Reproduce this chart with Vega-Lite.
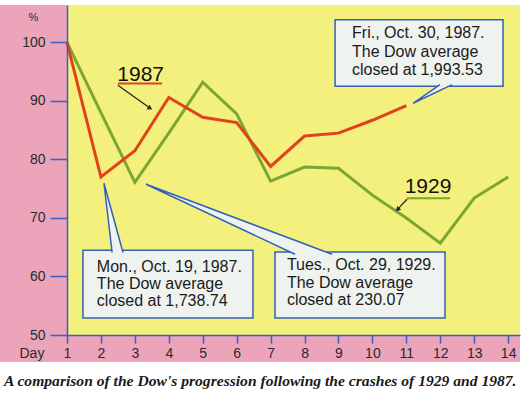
{
  "$schema": "https://vega.github.io/schema/vega-lite/v6.json",
  "width": 453,
  "height": 330,
  "autosize": {"type": "none"},
  "padding": {"left": 67, "top": 5, "right": 6, "bottom": 63},
  "background": "white",
  "view": {"fill": "#f3f07e", "stroke": null},
  "config": {"font": "Liberation Sans", "axis": {"labelOverlap": false}},
  "title": {
    "text": "A comparison of the Dow's progression following the crashes of 1929 and 1987.",
    "orient": "bottom", "anchor": "start", "frame": "group", "font": "Liberation Serif", "fontStyle": "italic",
    "fontWeight": "bold", "fontSize": 15.6, "color": "#1a1a1a", "dx": -63, "offset": 12
  },
  "datasets": {
    "strips": [
      {"day": -0.975, "day2": 1, "pct": 45.4, "pct2": 106.4},
      {"day": 1, "day2": 14.35, "pct": 45.4, "pct2": 50}
    ],
    "series": [
      {"year": "1929", "day": 1, "pct": 100}, {"year": "1929", "day": 2, "pct": 88.0},
      {"year": "1929", "day": 3, "pct": 76.1}, {"year": "1929", "day": 4, "pct": 84.5},
      {"year": "1929", "day": 5, "pct": 93.2}, {"year": "1929", "day": 6, "pct": 87.8},
      {"year": "1929", "day": 7, "pct": 76.3}, {"year": "1929", "day": 8, "pct": 78.7},
      {"year": "1929", "day": 9, "pct": 78.5}, {"year": "1929", "day": 10, "pct": 73.9},
      {"year": "1929", "day": 11, "pct": 70.0}, {"year": "1929", "day": 12, "pct": 65.7},
      {"year": "1929", "day": 13, "pct": 73.4}, {"year": "1929", "day": 14, "pct": 77.0},
      {"year": "1987", "day": 1, "pct": 100}, {"year": "1987", "day": 2, "pct": 77.0},
      {"year": "1987", "day": 3, "pct": 81.5}, {"year": "1987", "day": 4, "pct": 90.6},
      {"year": "1987", "day": 5, "pct": 87.2}, {"year": "1987", "day": 6, "pct": 86.3},
      {"year": "1987", "day": 7, "pct": 78.8}, {"year": "1987", "day": 8, "pct": 84.0},
      {"year": "1987", "day": 9, "pct": 84.5}, {"year": "1987", "day": 10, "pct": 86.7},
      {"year": "1987", "day": 11, "pct": 89.2}
    ],
    "boxes": [
      {"id": "mon", "day": 1.47, "day2": 6.48, "pct": 64.5, "pct2": 52.9},
      {"id": "tue", "day": 7.13, "day2": 12.14, "pct": 64.2, "pct2": 52.9},
      {"id": "fri", "day": 8.9, "day2": 13.85, "pct": 103.9, "pct2": 92.5}
    ],
    "wedges": [
      {"id": "mon", "ord": 1, "day": 2.33, "pct": 64.1},
      {"id": "mon", "ord": 2, "day": 2.09, "pct": 75.94},
      {"id": "mon", "ord": 3, "day": 2.65, "pct": 64.1},
      {"id": "tue", "ord": 1, "day": 7.72, "pct": 63.8},
      {"id": "tue", "ord": 2, "day": 3.33, "pct": 75.77},
      {"id": "tue", "ord": 3, "day": 8.81, "pct": 63.8},
      {"id": "fri", "ord": 1, "day": 11.99, "pct": 92.8},
      {"id": "fri", "ord": 2, "day": 11.2, "pct": 89.6},
      {"id": "fri", "ord": 3, "day": 12.35, "pct": 92.8}
    ],
    "notes": [
      {"day": 9.4, "pct": 101.54, "text": "Fri., Oct. 30, 1987."},
      {"day": 9.4, "pct": 98.29, "text": "The Dow average"},
      {"day": 9.4, "pct": 95.22, "text": "closed at 1,993.53"},
      {"day": 1.88, "pct": 61.6, "text": "Mon., Oct. 19, 1987."},
      {"day": 1.88, "pct": 58.7, "text": "The Dow average"},
      {"day": 1.88, "pct": 55.8, "text": "closed at 1,738.74"},
      {"day": 7.48, "pct": 61.95, "text": "Tues., Oct. 29, 1929."},
      {"day": 7.48, "pct": 58.87, "text": "The Dow average"},
      {"day": 7.48, "pct": 55.97, "text": "closed at 230.07"}
    ],
    "labels": [
      {"day": 3.17, "pct": 94.5, "text": "1987"},
      {"day": 11.64, "pct": 75.26, "text": "1929"}
    ],
    "underlines": [
      {"year": "1987", "day": 2.5, "day2": 3.8, "pct": 93.0},
      {"year": "1929", "day": 11.02, "day2": 12.29, "pct": 73.38}
    ],
    "arrows": [
      {"day": 2.5, "pct": 92.7, "day2": 3.42, "pct2": 88.9},
      {"day": 11.02, "pct": 73.2, "day2": 10.76, "pct2": 71.6}
    ],
    "heads": [
      {"day": 3.45, "pct": 88.75, "angle": 124},
      {"day": 10.74, "pct": 71.45, "angle": 225}
    ]
  },
  "encoding": {
    "x": {"field": "day", "type": "quantitative",
      "scale": {"domain": [1, 14.35], "nice": false, "zero": false},
      "axis": {"values": [1,2,3,4,5,6,7,8,9,10,11,12,13,14], "zindex": 2, "grid": false,
        "domainColor": "#3a5ec0", "domainWidth": 1.5, "tickColor": "#3a5ec0", "tickWidth": 1.5,
        "tickSize": 8, "labelFontSize": 14, "labelColor": "#2a2a2a", "labelPadding": 10,
        "labelBaseline": "middle", "labelFlush": false, "labelOverlap": false, "labelBound": false,
        "title": "Day", "titleX": -48, "titleY": 18, "titleAlign": "left", "titleBaseline": "middle",
        "titleFontSize": 14, "titleFontWeight": "normal", "titleColor": "#2a2a2a"}},
    "y": {"field": "pct", "type": "quantitative",
      "scale": {"domain": [50, 106.4], "nice": false, "zero": false},
      "axis": {"values": [50, 60, 70, 80, 90, 100], "zindex": 2, "grid": false,
        "domainColor": "#3a5ec0", "domainWidth": 1.5, "tickColor": "#3a5ec0", "tickWidth": 1.5,
        "tickSize": 17, "labelFontSize": 14, "labelColor": "#2a2a2a", "labelPadding": 5,
        "labelBaseline": "middle", "labelFlush": false, "labelOverlap": false,
        "title": "%", "titleAngle": 0, "titleX": -34, "titleY": 12, "titleAlign": "center",
        "titleBaseline": "middle", "titleFontSize": 11, "titleFontWeight": "normal", "titleColor": "#2a2a2a"}}
  },
  "layer": [
    {
      "data": {"name": "strips"},
      "mark": {"type": "rect", "fill": "#eca4ba", "clip": false},
      "encoding": {"x2": {"field": "day2"}, "y2": {"field": "pct2"}}
    },
    {
      "data": {"name": "series"},
      "mark": {"type": "line", "strokeWidth": 3},
      "encoding": {
        "color": {"field": "year", "type": "nominal",
          "scale": {"domain": ["1929", "1987"], "range": ["#7ba634", "#e0421c"]}, "legend": null}
      }
    },
    {
      "data": {"name": "boxes"},
      "mark": {"type": "rect", "fill": "#eef3f0", "stroke": "#3560b5", "strokeWidth": 1.5},
      "encoding": {"x2": {"field": "day2"}, "y2": {"field": "pct2"}}
    },
    {
      "data": {"name": "wedges"},
      "mark": {"type": "line", "fill": "#eef3f0", "stroke": "#3560b5", "strokeWidth": 1.5},
      "encoding": {"detail": {"field": "id"}, "order": {"field": "ord"}}
    },
    {
      "data": {"name": "notes"},
      "mark": {"type": "text", "align": "left", "baseline": "middle", "fontSize": 16, "color": "#1a1a1a"},
      "encoding": {"text": {"field": "text"}}
    },
    {
      "data": {"name": "labels"},
      "mark": {"type": "text", "align": "center", "baseline": "middle", "fontSize": 21, "color": "#111111"},
      "encoding": {"text": {"field": "text"}}
    },
    {
      "data": {"name": "underlines"},
      "mark": {"type": "rule", "strokeWidth": 2},
      "encoding": {
        "x2": {"field": "day2"},
        "color": {"field": "year", "type": "nominal",
          "scale": {"domain": ["1929", "1987"], "range": ["#7ba634", "#e0421c"]}, "legend": null}
      }
    },
    {
      "data": {"name": "arrows"},
      "mark": {"type": "rule", "strokeWidth": 1.2, "color": "#222222"},
      "encoding": {"x2": {"field": "day2"}, "y2": {"field": "pct2"}}
    },
    {
      "data": {"name": "heads"},
      "mark": {"type": "point", "shape": "triangle-up", "filled": true, "size": 30, "color": "#222222", "opacity": 1},
      "encoding": {"angle": {"field": "angle", "type": "quantitative", "scale": null}}
    }
  ]
}
